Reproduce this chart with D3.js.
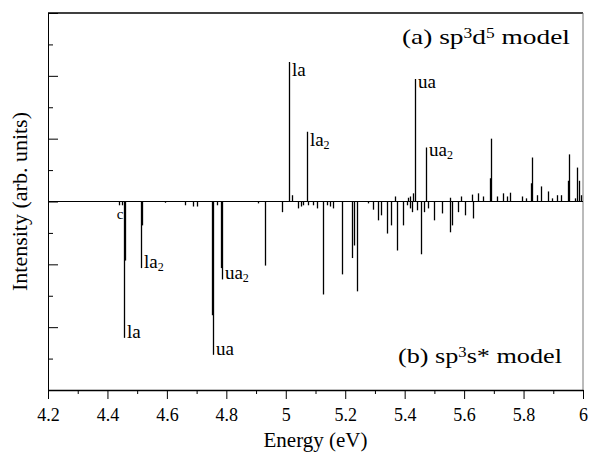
<!DOCTYPE html>
<html>
<head>
<meta charset="utf-8">
<script src="https://cdn.jsdelivr.net/npm/d3@7"></script>
<style>
    body { margin: 0; background: #fff; }
    #chart-area { width: 590px; height: 452px; }
    svg text { font-family: "Times New Roman", "Liberation Serif", Times, serif; fill: #000; }
</style>
</head>
<body>
<div id="chart-area"></div>
<script>

// x axis ticks (energy, eV)
const xMajorTicks = [4.2, 4.4, 4.6, 4.8, 5.0, 5.2, 5.4, 5.6, 5.8, 6.0];
const xTickLabels = ["4.2", "4.4", "4.6", "4.8", "5", "5.2", "5.4", "5.6", "5.8", "6"];
const xMinorTicks = [4.3, 4.5, 4.7, 4.9, 5.1, 5.3, 5.5, 5.7, 5.9];

// y axis ticks (arb. units, no labels)
const yMajorTicks = [-3, -2, -1, 0, 1, 2, 3];
const yMinorTicks = [-2.5, -1.5, -0.5, 0.5, 1.5, 2.5];

// (a) sp3d5 model - plotted upward
const sp3d5Energy = [5.011, 5.021, 5.071, 5.368, 5.411, 5.418, 5.428, 5.435, 5.472, 5.553,
    5.590, 5.627, 5.647, 5.664, 5.687, 5.691, 5.711, 5.731, 5.744, 5.754,
    5.795, 5.808, 5.825, 5.829, 5.845, 5.859, 5.882, 5.896, 5.913, 5.926,
    5.950, 5.953, 5.973, 5.980, 5.987, 5.993];
const sp3d5Intensity = [2.22, 0.10, 1.11, 0.08, 0.06, 0.08, 0.13, 1.95, 0.86, 0.06,
    0.08, 0.11, 0.13, 0.08, 0.37, 1.00, 0.08, 0.13, 0.08, 0.14,
    0.08, 0.05, 0.29, 0.70, 0.10, 0.24, 0.16, 0.05, 0.10, 0.10,
    0.33, 0.75, 0.05, 0.54, 0.33, 0.10];

// (b) sp3s* model - plotted downward
const sp3sEnergy = [4.439, 4.449, 4.456, 4.459, 4.513, 4.516, 4.594, 4.661, 4.688, 4.701,
    4.752, 4.755, 4.769, 4.782, 4.785, 4.907, 4.930, 4.987, 5.041, 5.051,
    5.058, 5.075, 5.092, 5.105, 5.125, 5.139, 5.149, 5.159, 5.189, 5.223,
    5.230, 5.240, 5.277, 5.294, 5.310, 5.321, 5.341, 5.354, 5.374, 5.394,
    5.408, 5.418, 5.425, 5.442, 5.455, 5.465, 5.479, 5.499, 5.526, 5.553,
    5.559, 5.580, 5.603, 5.630];
const sp3sIntensity = [-0.06, -0.06, -2.17, -0.94, -1.06, -0.38, -0.02, -0.06, -0.08, -0.08,
    -1.81, -2.44, -0.06, -1.06, -1.24, -0.03, -1.02, -0.17, -0.11, -0.08,
    -0.06, -0.06, -0.06, -0.11, -1.48, -0.06, -0.08, -0.11, -1.16, -0.90,
    -0.70, -1.43, -0.03, -0.13, -0.30, -0.22, -0.51, -0.38, -0.78, -0.38,
    -0.06, -0.11, -0.17, -0.14, -0.84, -0.17, -0.11, -0.30, -0.19, -0.49,
    -0.38, -0.17, -0.22, -0.27];

// peak labels
const labelBase = ["la", "la", "ua", "ua", "la", "la", "ua", "ua"];
const labelSub = ["", "2", "", "2", "", "2", "", "2"];
const labelEnergy = [5.011, 5.071, 5.435, 5.472, 4.456, 4.513, 4.755, 4.785];
const labelSeries = ["a", "a", "a", "a", "b", "b", "b", "b"];


class SpectrumVis {

    constructor(parentElement){
        this.parentElement = parentElement;
        this.initVis();
    }

    initVis(){
        let vis = this;

        vis.margin = {top: 13, right: 7, bottom: 62, left: 48};
        vis.width = 590 - vis.margin.left - vis.margin.right;
        vis.height = 452 - vis.margin.top - vis.margin.bottom;

        vis.svg = d3.select("#" + vis.parentElement).append("svg")
            .attr("width", 590)
            .attr("height", 452)
            .append("g")
            .attr("transform", `translate(${vis.margin.left}, ${vis.margin.top})`);

        // scales
        vis.x = d3.scaleLinear().domain([4.2, 6.0]).range([0, vis.width]);
        vis.y = d3.scaleLinear().domain([-3, 3]).range([vis.height, 0]);

        this.wrangleData();
    }

    wrangleData(){
        let vis = this;

        vis.peaksA = sp3d5Energy.map((e, i) => ({energy: e, value: sp3d5Intensity[i]}));
        vis.peaksB = sp3sEnergy.map((e, i) => ({energy: e, value: sp3sIntensity[i]}));

        vis.labels = labelBase.map((b, i) => {
            let src = labelSeries[i] === "a" ? vis.peaksA : vis.peaksB;
            let peak = src.find(p => p.energy === labelEnergy[i]);
            return {base: b, sub: labelSub[i], energy: peak.energy, value: peak.value};
        });

        vis.updateVis();
    }

    updateVis(){
        let vis = this;

        // frame: top and right edges
        vis.svg.append("line")
            .attr("x1", 0).attr("x2", vis.width)
            .attr("y1", 0).attr("y2", 0)
            .attr("stroke", "#000").attr("stroke-width", 1.5);
        vis.svg.append("line")
            .attr("x1", vis.width).attr("x2", vis.width)
            .attr("y1", 0).attr("y2", vis.height)
            .attr("stroke", "#777").attr("stroke-width", 1);

        // x axis (major labelled, minor short)
        let xAxis = d3.axisBottom(vis.x)
            .tickValues(xMajorTicks)
            .tickFormat((d, i) => xTickLabels[i])
            .tickSizeInner(9)
            .tickSizeOuter(0)
            .tickPadding(9);
        let xAxisGroup = vis.svg.append("g")
            .attr("class", "axis x-axis")
            .attr("transform", `translate(0, ${vis.height})`)
            .call(xAxis);
        xAxisGroup.select(".domain").attr("stroke-width", 1.5);
        xAxisGroup.selectAll("text")
            .attr("font-size", "18px");

        vis.svg.append("g")
            .attr("transform", `translate(0, ${vis.height})`)
            .call(d3.axisBottom(vis.x).tickValues(xMinorTicks).tickSize(4).tickFormat(""))
            .select(".domain").remove();

        // y axis (ticks pointing inward, no labels)
        let yAxisGroup = vis.svg.append("g")
            .attr("class", "axis y-axis")
            .call(d3.axisRight(vis.y).tickValues(yMajorTicks).tickSizeInner(10).tickSizeOuter(0).tickFormat(""));
        yAxisGroup.select(".domain").attr("stroke-width", 1);

        vis.svg.append("g")
            .call(d3.axisRight(vis.y).tickValues(yMinorTicks).tickSize(5).tickFormat(""))
            .select(".domain").remove();

        // zero line
        vis.svg.append("line")
            .attr("x1", 0).attr("x2", vis.width)
            .attr("y1", vis.y(0)).attr("y2", vis.y(0))
            .attr("stroke", "#000").attr("stroke-width", 1);

        // stick spectra
        let allPeaks = vis.peaksA.concat(vis.peaksB);
        vis.svg.append("g").selectAll("line")
            .data(allPeaks)
            .enter().append("line")
            .attr("x1", d => Math.round(vis.x(d.energy)) + 0.5)
            .attr("x2", d => Math.round(vis.x(d.energy)) + 0.5)
            .attr("y1", vis.y(0))
            .attr("y2", d => vis.y(d.value))
            .attr("stroke", "#000")
            .attr("stroke-width", 1.3);

        // peak labels
        let lab = vis.svg.append("g").selectAll("text")
            .data(vis.labels)
            .enter().append("text")
            .attr("font-size", "19px")
            .attr("x", d => vis.x(d.energy) + 3)
            .attr("y", d => {
                if (d.value > 0) return vis.y(d.value) + (d.base === "la" ? 14 : 9);
                return vis.y(d.value);
            });
        lab.append("tspan").text(d => d.base);
        lab.append("tspan")
            .attr("font-size", "12px")
            .attr("dy", 3)
            .text(d => d.sub);

        // little "c" marker near the first weak peak
        vis.svg.append("text")
            .attr("x", vis.x(4.439) + 1)
            .attr("y", vis.y(0) + 17)
            .attr("text-anchor", "middle")
            .attr("font-size", "15px")
            .text("c");

        // model titles
        vis.addTitle([["(a) sp", 0], ["3", 1], ["d", 0], ["5", 1], [" model", 0]], 354, 31, 168);
        vis.addTitle([["(b) sp", 0], ["3", 1], ["s* model", 0]], 350, 350, 164);

        // axis titles
        vis.svg.append("text")
            .attr("x", vis.width / 2)
            .attr("y", vis.height + 57)
            .attr("text-anchor", "middle")
            .attr("font-size", "21px")
            .text("Energy (eV)");

        vis.svg.append("text")
            .attr("transform", `translate(${27 - vis.margin.left}, ${vis.y(0)}) rotate(-90)`)
            .attr("text-anchor", "middle")
            .attr("font-size", "22px")
            .text("Intensity (arb. units)");
    }

    addTitle(parts, x, y, targetWidth){
        let vis = this;
        let g = vis.svg.append("g").attr("transform", `translate(${x}, ${y})`);
        let t = g.append("text").attr("font-size", "22px");
        parts.forEach(p => {
            let s = t.append("tspan").text(p[0]);
            if (p[1]) s.attr("font-size", "14px").attr("baseline-shift", "6px");
        });
        // stretch horizontally to match the original wide lettering
        let w = t.node().getComputedTextLength();
        t.attr("transform", `scale(${targetWidth / w}, 1)`);
    }
}

new SpectrumVis("chart-area");
</script>
</body>
</html>
